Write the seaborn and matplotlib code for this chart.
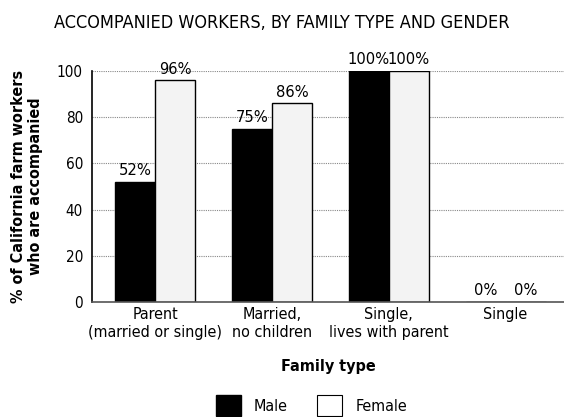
import matplotlib
matplotlib.use("Agg")
import matplotlib.pyplot as plt
import seaborn as sns
import pandas as pd
from matplotlib.patches import Patch

categories = ["Parent\n(married or single)", "Married,\nno children", "Single,\nlives with parent", "Single"]
male = [52, 75, 100, 0]
female = [96, 86, 100, 0]
genders = ["Male", "Female"]
yticks = [0, 20, 40, 60, 80, 100]

df = pd.DataFrame({
    "Family type": categories * 2,
    "value": male + female,
    "Gender": ["Male"] * len(categories) + ["Female"] * len(categories),
})

sns.set_theme(style="white")
plt.rcParams['font.family'] = ['DejaVu Sans']
plt.rcParams['font.stretch'] = 'condensed'
plt.rcParams['text.color'] = 'black'
plt.rcParams['axes.labelcolor'] = 'black'
plt.rcParams['xtick.color'] = 'black'
plt.rcParams['ytick.color'] = 'black'

fig = plt.figure(figsize=(5.64, 4.17), dpi=100)
ax = fig.add_axes([0.163, 0.276, 0.837, 0.554])

sns.barplot(data=df, x="Family type", y="value", hue="Gender", hue_order=genders,
            palette={"Male": "black", "Female": "#f3f3f3"}, width=0.685,
            edgecolor="black", linewidth=1.0, ax=ax, legend=False)

for c in ax.containers:
    ax.bar_label(c, fmt="%d%%", padding=2.5, fontsize=11.8, stretch='condensed')

ax.set_ylim(0, 100)
ax.set_xlim(-0.54, 3.5)
ax.set_yticks(yticks)
ax.set_yticklabels([str(t) for t in yticks], fontsize=11, stretch='condensed')
for lbl in ax.get_xticklabels():
    lbl.set_fontstretch('condensed')
ax.tick_params(axis="x", labelsize=11.5, length=0, pad=4)
ax.tick_params(axis="y", length=0, pad=6.5)
ax.yaxis.grid(True, linestyle=(0, (1, 1)), color="#888888", linewidth=0.8)
ax.set_axisbelow(True)
for s in ["top", "right"]:
    ax.spines[s].set_visible(False)
ax.spines["left"].set_color("black")
ax.spines["left"].set_linewidth(1.2)
ax.spines["bottom"].set_color("#555555")
ax.spines["bottom"].set_linewidth(1.2)

ax.set_xlabel("Family type", fontsize=11.5, fontweight="bold", labelpad=14, stretch='condensed')
ax.set_ylabel("% of California farm workers\nwho are accompanied", fontsize=11.5,
              fontweight="bold", labelpad=10, stretch='condensed')

fig.text(0.5, 0.945, "ACCOMPANIED WORKERS, BY FAMILY TYPE AND GENDER",
         ha="center", va="center", fontsize=13, stretch='condensed')

handles = [Patch(facecolor="black", edgecolor="black", label="Male"),
           Patch(facecolor="white", edgecolor="black", linewidth=0.8, label="Female")]
leg = fig.legend(handles=handles, loc="center", bbox_to_anchor=(0.552, 0.027), ncol=2,
           frameon=False, fontsize=11.5, handlelength=1.6, handleheight=1.6,
           columnspacing=1.8, handletextpad=0.8)
for t in leg.get_texts():
    t.set_fontstretch('condensed')

fig.savefig("out.png", dpi=100)
